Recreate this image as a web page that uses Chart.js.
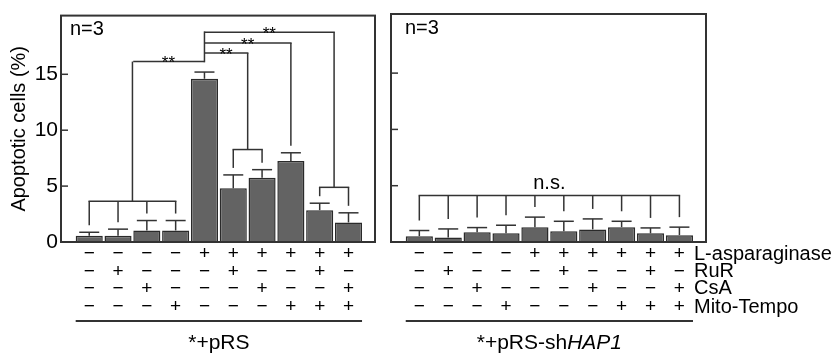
<!DOCTYPE html>
<html>
<head>
<meta charset="utf-8">
<script src="https://cdn.jsdelivr.net/npm/chart.js@4"></script>
<style>
  html, body { margin: 0; padding: 0; background: #fff; }
  #wrap { position: relative; width: 839px; height: 354px; }
  canvas { position: absolute; top: 0; }
</style>
</head>
<body>
<div id="wrap">
  <canvas id="chartPRS" width="383" height="354" style="left:0"></canvas>
  <canvas id="chartHAP1" width="456" height="354" style="left:383px"></canvas>
</div>
<script>
// conditions, left to right
const categories = [
  'control', 'RuR', 'CsA', 'Mito-Tempo',
  'L-asp', 'L-asp+RuR', 'L-asp+CsA', 'L-asp+Mito-Tempo',
  'L-asp+RuR+Mito-Tempo', 'L-asp+CsA+Mito-Tempo'
];
const treatmentNames = ['L-asparaginase', 'RuR', 'CsA', 'Mito-Tempo'];
const lAsparaginase = ['−', '−', '−', '−', '+', '+', '+', '+', '+', '+'];
const ruR           = ['−', '+', '−', '−', '−', '+', '−', '−', '+', '−'];
const csA           = ['−', '−', '+', '−', '−', '−', '+', '−', '−', '+'];
const mitoTempo     = ['−', '−', '−', '+', '−', '−', '−', '+', '+', '+'];

// apoptotic cells (%), mean and upper error
const prsMeans  = [0.55, 0.57, 1.03, 1.03, 14.6, 4.8, 5.75, 7.25, 2.85, 1.75];
const prsErrs   = [0.32, 0.58, 0.89, 0.89, 0.6, 1.2, 0.72, 0.73, 0.62, 0.86];
const hap1Means = [0.52, 0.4, 0.86, 0.78, 1.32, 0.96, 1.12, 1.32, 0.77, 0.61];
const hap1Errs  = [0.5, 0.76, 0.42, 0.71, 0.89, 0.88, 0.93, 0.52, 0.48, 0.71];

const yTicks = [0, 5, 10, 15];

// significance brackets (levels in %)
const prsGroups  = [
  { bars: [0, 1, 2, 3], level: 3.65 },
  { bars: [5, 6], level: 8.27 },
  { bars: [8, 9], level: 4.89 }
];
const prsLinks = [
  { group: 0, level: 16.14 },
  { group: 1, level: 16.9 },
  { bar: 7, level: 17.79 },
  { group: 2, level: 18.77 }
];
const hap1Groups = [
  { bars: [0, 1, 2, 3, 4, 5, 6, 7, 8, 9], level: 4.12, label: 'n.s.' }
];

const FONT = '"Liberation Sans", Arial, Helvetica, sans-serif';
const INK = '#333';

function decor(opts) {
  return {
    id: 'panelDecor',
    afterDraw(chart) {
      const { ctx, chartArea: a, scales: { y } } = chart;
      const bars = chart.getDatasetMeta(0).data;
      const px = i => bars[i].x;
      const py = v => y.getPixelForValue(v);
      const capTop = i => py(opts.means[i] + opts.errs[i]);
      const dropEnd = i => capTop(i) - opts.gap;
      const line = (x1, y1, x2, y2) => {
        ctx.beginPath(); ctx.moveTo(x1, y1); ctx.lineTo(x2, y2); ctx.stroke();
      };
      ctx.save();
      ctx.strokeStyle = INK;
      ctx.fillStyle = '#000';
      ctx.lineWidth = 1.5;

      // error bars (upper only)
      bars.forEach((b, i) => {
        const t = capTop(i);
        line(b.x, b.y, b.x, t);
        line(b.x - 10, t, b.x + 10, t);
      });

      // frame + inner ticks
      ctx.lineWidth = 2;
      ctx.strokeRect(a.left, a.top, a.right - a.left, a.bottom - a.top);
      ctx.lineWidth = 1.5;
      yTicks.slice(1).forEach(v => line(a.left, py(v), a.left + 7, py(v)));

      // brackets
      const gx = g => (px(g.bars[0]) + px(g.bars[g.bars.length - 1])) / 2;
      opts.groups.forEach(g => {
        const ly = py(g.level);
        line(px(g.bars[0]) - 0.75, ly, px(g.bars[g.bars.length - 1]) + 0.75, ly);
        g.bars.forEach(i => line(px(i), ly, px(i), dropEnd(i)));
        if (g.label) {
          ctx.font = '20px ' + FONT;
          ctx.textAlign = 'center';
          ctx.textBaseline = 'alphabetic';
          ctx.fillText(g.label, gx(g), ly - 7);
        }
      });
      if (opts.links) {
        const fx = px(opts.from);
        const levels = opts.links.map(l => l.level);
        line(fx, py(Math.min(...levels)) + 0.75, fx, py(Math.max(...levels)) - 0.75);
        opts.links.forEach(l => {
          const ly = py(l.level);
          let tx, bottom;
          if (l.group !== undefined) {
            const g = opts.groups[l.group];
            tx = gx(g); bottom = py(g.level);
          } else {
            tx = px(l.bar); bottom = dropEnd(l.bar);
          }
          line(fx, ly, tx + 0.75, ly);
          line(tx, ly, tx, bottom);
          ctx.font = '17px ' + FONT;
          ctx.textAlign = 'center';
          ctx.textBaseline = 'alphabetic';
          ctx.fillText('**', (fx + tx) / 2, ly + 6.5);
        });
      }

      // n=3
      ctx.font = '20px ' + FONT;
      ctx.textAlign = 'left';
      ctx.textBaseline = 'middle';
      ctx.fillText('n=3', a.left + opts.nX, a.top + 14);

      // treatment table
      const rows = [lAsparaginase, ruR, csA, mitoTempo];
      const rowY = [12, 29.5, 46.5, 65].map(d => a.bottom + d);
      ctx.font = '19px ' + FONT;
      ctx.textAlign = 'center';
      rows.forEach((r, k) => r.forEach((s, i) => ctx.fillText(s, px(i), rowY[k])));
      const x0 = px(0) - bars[0].width / 2;
      const x1 = px(9) + bars[9].width / 2;
      if (opts.rowLabels) {
        ctx.font = '20px ' + FONT;
        ctx.textAlign = 'left';
        treatmentNames.forEach((t, k) => ctx.fillText(t, x1 + 1, rowY[k]));
      }

      // group underline + label
      ctx.lineWidth = 2;
      line(x0, a.bottom + 79, x1, a.bottom + 79);
      const cx = (x0 + x1) / 2, ly = a.bottom + 101;
      ctx.textAlign = 'left';
      ctx.textBaseline = 'middle';
      const parts = opts.groupLabel;
      const fonts = parts.map(p => (p.italic ? 'italic ' : '') + '21px ' + FONT);
      const widths = parts.map((p, k) => { ctx.font = fonts[k]; return ctx.measureText(p.text).width; });
      let x = cx - widths.reduce((s, w) => s + w, 0) / 2;
      parts.forEach((p, k) => { ctx.font = fonts[k]; ctx.fillText(p.text, x, ly); x += widths[k]; });
      ctx.restore();
    }
  };
}

function barData(means) {
  return means.map((v, i) => ({ x: i, y: v }));
}

function panel(id, means, errs, showAxis, padding, extra) {
  return new Chart(document.getElementById(id), {
    type: 'bar',
    data: {
      labels: categories,
      datasets: [{
        data: barData(means),
        backgroundColor: '#636363',
        borderColor: '#2a2a2a',
        borderWidth: 1.5,
        barPercentage: 0.94,
        categoryPercentage: 1
      }]
    },
    options: {
      responsive: false,
      animation: false,
      devicePixelRatio: 1,
      layout: { padding: padding },
      plugins: { legend: { display: false }, tooltip: { enabled: false } },
      scales: {
        x: { type: 'linear', min: -0.98, max: 9.92, offset: false, display: false },
        y: {
          min: 0, max: 20.25,
          display: showAxis,
          afterBuildTicks: s => { s.ticks = yTicks.map(v => ({ value: v })); },
          afterFit: s => { if (showAxis) s.width = 61; },
          grid: { display: false, drawTicks: false },
          border: { display: false },
          ticks: { padding: 3, color: '#000', font: { family: FONT, size: 21 } },
          title: {
            display: true, text: 'Apoptotic cells (%)', color: '#000',
            font: { family: FONT, size: 20 }, padding: { top: 7, bottom: 0 }
          }
        }
      }
    },
    plugins: [decor(Object.assign({ means: means, errs: errs }, extra))]
  });
}

panel('chartPRS', prsMeans, prsErrs, true,
  { left: 0, top: 14, right: 8, bottom: 112 },
  { groups: prsGroups, links: prsLinks, from: 4, gap: 7, nX: 9,
    groupLabel: [{ text: '*+pRS' }] });

panel('chartHAP1', hap1Means, hap1Errs, false,
  { left: 8, top: 14, right: 133, bottom: 112 },
  { groups: hap1Groups, gap: 10, nX: 14, rowLabels: true,
    groupLabel: [{ text: '*+pRS-sh' }, { text: 'HAP1', italic: true }] });
</script>
</body>
</html>
